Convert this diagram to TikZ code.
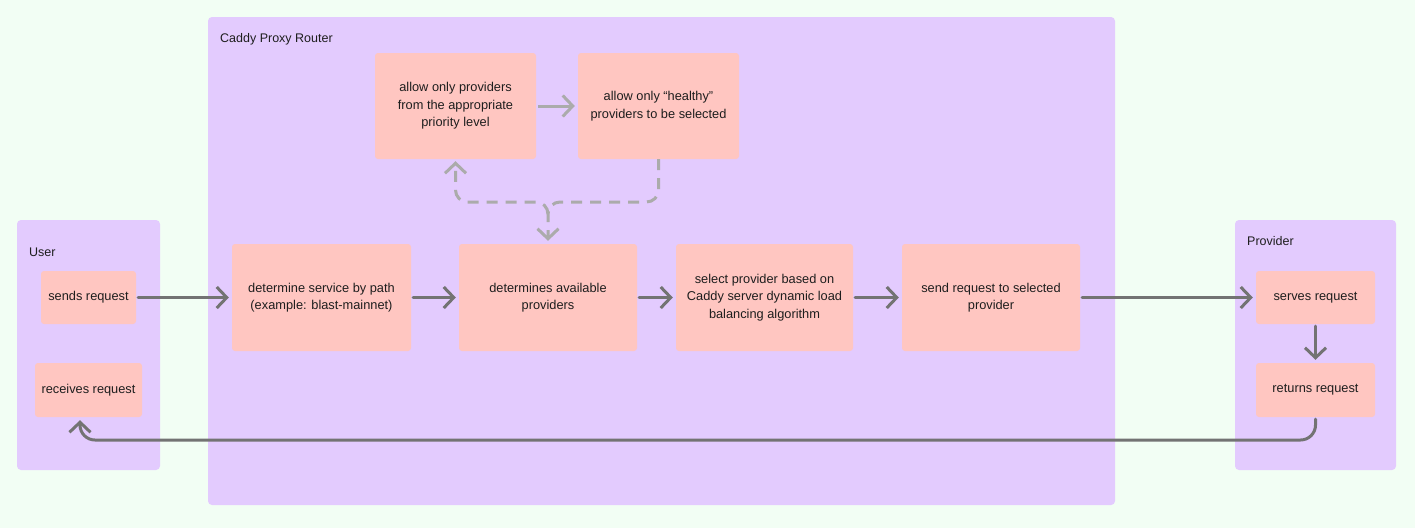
\documentclass[tikz,border=0pt]{standalone}
\usepackage{fontspec}
\setmainfont{Liberation Sans}
\usetikzlibrary{arrows.meta}
\definecolor{bgc}{HTML}{F2FEF4}
\definecolor{framec}{HTML}{E3CBFE}
\definecolor{boxc}{HTML}{FFC6C1}
\definecolor{arrc}{HTML}{737373}
\definecolor{lightarr}{HTML}{ABABAB}
\definecolor{txtc}{HTML}{1E1E1E}
\tikzset{
  frame/.style={fill=framec, rounded corners=4pt, draw=none},
  stepbox/.style={fill=boxc, rounded corners=3pt, draw=none, align=center,
    text=txtc, font=\fontsize{12.8}{17.5}\selectfont, inner sep=0pt},
  lbl/.style={anchor=north west, text=txtc, font=\fontsize{12.5}{14}\selectfont, inner sep=0pt},
  flow/.style={draw=arrc, line width=3pt, -{Straight Barb[length=10pt,width=21pt,line width=3pt]},
    shorten >=3pt, shorten <=2pt, line cap=round},
  lflow/.style={draw=lightarr, line width=3pt, -{Straight Barb[length=10pt,width=21pt,line width=3pt]},
    shorten >=3pt, shorten <=2pt},
  dflow/.style={draw=lightarr, line width=3pt, dash pattern=on 11pt off 8pt,
    -{Straight Barb[length=10pt,width=21pt,line width=3pt]}, rounded corners=12pt}
}
\begin{document}
\begin{tikzpicture}[x=1pt,y=-1pt]
\useasboundingbox[fill=bgc] (0,0) rectangle (1415,528);
% frames
\path[frame] (17,220) rectangle (160,470);
\path[frame] (208,17) rectangle (1115,505);
\path[frame] (1235,220) rectangle (1396,470);
\node[lbl] (luser) at (29,247.5) {User};
\node[lbl] (lcaddy) at (220,33) {Caddy Proxy Router};
\node[lbl] (lprov) at (1247,236) {Provider};
% user boxes
\node[stepbox, minimum width=95pt, minimum height=53pt] (sends) at (88.5,297.5) {sends request};
\node[stepbox, minimum width=107pt, minimum height=54pt] (receives) at (88.5,390) {receives request};
% provider boxes
\node[stepbox, minimum width=119pt, minimum height=53pt] (serves) at (1315.5,297.5) {serves request};
\node[stepbox, minimum width=119pt, minimum height=54pt] (returns) at (1315.5,390) {returns request};
% main row
\node[stepbox, minimum width=179pt, minimum height=107pt] (detserv) at (321.5,297.5) {determine service by path\\(example: blast-mainnet)};
\node[stepbox, minimum width=178pt, minimum height=107pt] (avail) at (548,297.5) {determines available\\providers};
\node[stepbox, minimum width=177pt, minimum height=107pt] (select) at (764.5,297.5) {select provider based on\\Caddy server dynamic load\\balancing algorithm};
\node[stepbox, minimum width=178pt, minimum height=107pt] (sendsel) at (991,297.5) {send request to selected\\provider};
% top row
\node[stepbox, minimum width=161pt, minimum height=106pt] (prio) at (455.5,106) {allow only providers\\from the appropriate\\priority level};
\node[stepbox, minimum width=161pt, minimum height=106pt] (healthy) at (658.5,106) {allow only ``healthy''\\providers to be selected};
% connectors
\draw[flow] (sends) -- (detserv);
\draw[flow] (detserv) -- (avail);
\draw[flow] (avail) -- (select);
\draw[flow] (select) -- (sendsel);
\draw[flow] (sendsel.east) -- (serves.west);
\draw[flow] (serves) -- (returns);
\coordinate (rb) at (80,440);
\draw[flow, rounded corners=15pt] (returns.south) |- (rb) -- ([xshift=-8.5pt]receives.south);
\draw[lflow] (prio) -- (healthy);
\coordinate (junc) at (548,202);
\coordinate (jstart) at (548,214);
\draw[dflow, shorten >=3pt] (healthy.south) |- (junc) -- (avail.north);
\draw[dflow, shorten >=2pt] (jstart) -- (junc) -| (prio.south);
\end{tikzpicture}
\end{document}
